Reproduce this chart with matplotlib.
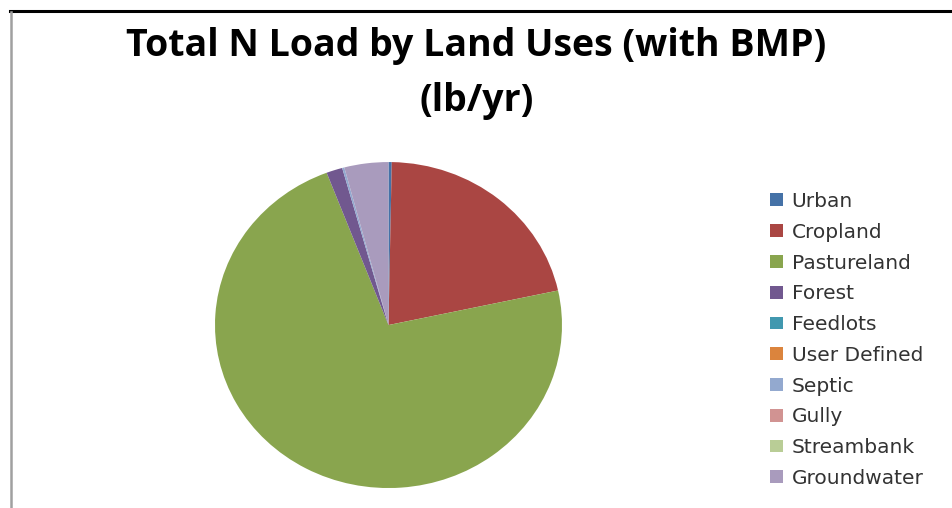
import matplotlib
matplotlib.use("Agg")
import matplotlib.pyplot as plt
from matplotlib.lines import Line2D

# N load by land use (lb/yr share)
land_uses = ["Urban", "Cropland", "Pastureland", "Forest", "Feedlots",
             "User Defined", "Septic", "Gully", "Streambank", "Groundwater"]
n_load = [0.3, 21.3, 72.6, 1.5, 0.0, 0.0, 0.2, 0.0, 0.0, 4.1]
colors = ["#4572A7", "#AA4643", "#89A54E", "#71588F", "#4198AF",
          "#DB843D", "#93A9CF", "#D19392", "#B9CD96", "#A99BBD"]

fig = plt.figure(figsize=(9.53, 5.08), dpi=100)

# pie area (slightly wider than tall, like the original)
ax = fig.add_axes([0.2256, 0.0393, 0.3641, 0.6417])
wedges, _ = ax.pie(n_load, colors=colors, startangle=90, counterclock=False,
                   wedgeprops=dict(linewidth=0))
ax.set_aspect("auto")
ax.set_xlim(-1, 1)
ax.set_ylim(-1, 1)
ax.axis("off")

fig.text(0.5, 1 - 56 / 508, "Total N Load by Land Uses (with BMP)",
         ha="center", va="baseline", fontsize=27, fontweight="bold",
         family="Open Sans")
fig.text(0.5, 1 - 111 / 508, "(lb/yr)", ha="center", va="baseline",
         fontsize=27, fontweight="bold", family="Open Sans")

leg = fig.legend(wedges, land_uses, loc="upper left",
                 bbox_to_anchor=(0.800, 0.638), frameon=False, fontsize=14.5,
                 handlelength=0.6, handleheight=0.6, handletextpad=0.45,
                 labelspacing=0.585, borderaxespad=0)
for t in leg.get_texts():
    t.set_color("#333333")

# screenshot frame lines
fig.add_artist(Line2D([10 / 953, 1], [1 - 11 / 508, 1 - 11 / 508],
                      transform=fig.transFigure, color="black", lw=2.2))
fig.add_artist(Line2D([11 / 953, 11 / 953], [0, 1 - 12 / 508],
                      transform=fig.transFigure, color="#A0A0A0", lw=1.8))

fig.savefig("out.png", dpi=100)
